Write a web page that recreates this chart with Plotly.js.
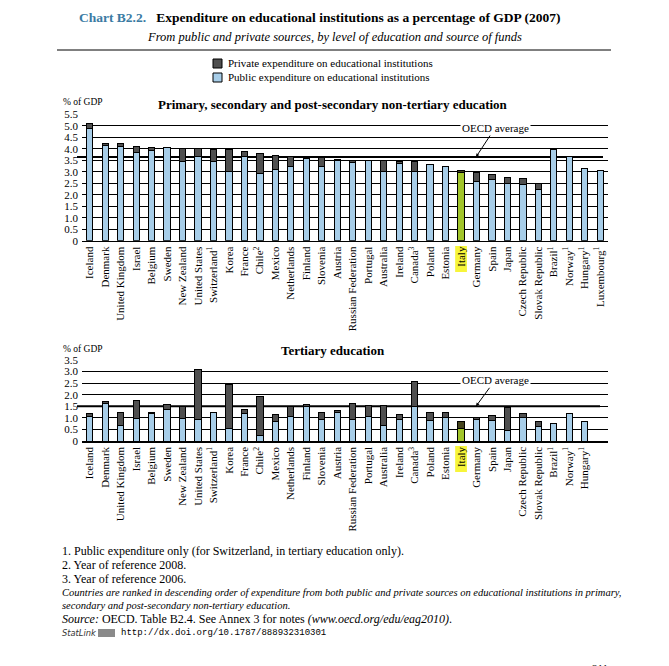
<!DOCTYPE html>
<html>
<head>
<meta charset="utf-8">
<script src="https://cdn.plot.ly/plotly-3.0.1.min.js"></script>
<style>html,body{margin:0;padding:0;background:#fff;}#chart{width:669px;height:666px;}</style>
</head>
<body>
<div id="chart"></div>
<script>
// ---- data ----
const countries = ["Iceland","Denmark","United Kingdom","Israel","Belgium","Sweden","New Zealand","United States","Switzerland","Korea","France","Chile","Mexico","Netherlands","Finland","Slovenia","Austria","Russian Federation","Portugal","Australia","Ireland","Canada","Poland","Estonia","Italy","Germany","Spain","Japan","Czech Republic","Slovak Republic","Brazil","Norway","Hungary","Luxembourg"];
const tickLabels = ["Iceland","Denmark","United Kingdom","Israel","Belgium","Sweden","New Zealand","United States","Switzerland<sup>1</sup>","Korea","France","Chile<sup>2</sup>","Mexico","Netherlands","Finland","Slovenia","Austria","Russian Federation","Portugal","Australia","Ireland","Canada<sup>3</sup>","Poland","Estonia","Italy","Germany","Spain","Japan","Czech Republic","Slovak Republic","Brazil<sup>1</sup>","Norway<sup>1</sup>","Hungary<sup>1</sup>","Luxembourg<sup>1</sup>"];
const primaryPublic  = [4.90,4.15,4.12,3.85,3.93,4.06,3.45,3.66,3.45,3.00,3.66,2.92,3.10,3.24,3.58,3.25,3.50,3.40,3.48,3.00,3.34,3.00,3.32,3.25,2.96,2.57,2.66,2.48,2.45,2.21,3.99,3.67,3.15,3.06];
const primaryPrivate = [0.18,0.09,0.12,0.27,0.13,0,0.57,0.36,0.53,0.98,0.21,0.88,0.62,0.43,0.04,0.36,0.04,0.10,0.02,0.50,0.10,0.44,0,0,0.10,0.39,0.23,0.29,0.26,0.29,0,0,0,0];
const tertiaryCountries = countries.slice(0, 33);
const tertiaryLabels = tickLabels.slice(0, 33);
const tertiaryPublic  = [1.05,1.62,0.68,0.96,1.20,1.38,0.96,0.94,1.25,0.55,1.20,0.23,0.84,1.07,1.51,0.95,1.24,0.94,1.07,0.66,0.95,1.48,0.89,1.02,0.56,0.91,0.89,0.46,1.02,0.62,0.76,1.21,0.86];
const tertiaryPrivate = [0.12,0.08,0.57,0.81,0.05,0.18,0.52,2.13,0,1.87,0.18,1.71,0.31,0.41,0.07,0.30,0.07,0.69,0.47,0.88,0.20,1.10,0.35,0.22,0.30,0.11,0.22,0.98,0.18,0.24,0,0,0];
const oecdPrimary = 3.64;
const oecdTertiary = 1.5;
const primaryTicks = [0,0.5,1,1.5,2,2.5,3,3.5,4,4.5,5,5.5];
const primaryTickText = ["0","0.5","1.0","1.5","2.0","2.5","3.0","3.5","4.0","4.5","5.0","5.5"];
const tertiaryTicks = [0,0.5,1,1.5,2,2.5,3,3.5];
const tertiaryTickText = ["0","0.5","1.0","1.5","2.0","2.5","3.0","3.5"];
const highlight = "Italy";

// ---- styles ----
const W = 669, H = 666;
const px = x => x / W;
const py = y => 1 - y / H;
const SERIF = "Liberation Serif, Times New Roman, serif";
const BLUE = "#a7cde8", GREY = "#4f4f4f", GREEN = "#a2c52a", OLIVE = "#45441c", YELLOW = "#f7f53a";
const pubColors = arr => arr.map(c => c === highlight ? GREEN : BLUE);
const privColors = arr => arr.map(c => c === highlight ? OLIVE : GREY);
const barLine = {color: "#000", width: 1};
const BW = 0.4;

const traces = [
  {type: "bar", x: countries, y: primaryPublic, xaxis: "x", yaxis: "y", width: BW,
   marker: {color: pubColors(countries), line: barLine}, name: "Public expenditure on educational institutions", showlegend: false, hoverinfo: "x+y"},
  {type: "bar", x: countries, y: primaryPrivate, xaxis: "x", yaxis: "y", width: BW,
   marker: {color: privColors(countries), line: barLine}, name: "Private expenditure on educational institutions", showlegend: false, hoverinfo: "x+y"},
  {type: "bar", x: tertiaryCountries, y: tertiaryPublic, xaxis: "x2", yaxis: "y2", width: BW,
   marker: {color: pubColors(tertiaryCountries), line: barLine}, name: "Public", showlegend: false, hoverinfo: "x+y"},
  {type: "bar", x: tertiaryCountries, y: tertiaryPrivate, xaxis: "x2", yaxis: "y2", width: BW,
   marker: {color: privColors(tertiaryCountries), line: barLine}, name: "Private", showlegend: false, hoverinfo: "x+y"}
];

const xCommon = {
  type: "category", range: [-0.5, countries.length - 0.5], showgrid: false, ticks: "",
  tickangle: -90, tickfont: {family: SERIF, size: 11, color: "#000"},
  showline: true, linecolor: "#000", linewidth: 1.5, fixedrange: true, automargin: false
};
const yCommon = {
  showgrid: true, gridcolor: "#000", gridwidth: 1, zeroline: false, ticks: "",
  tickfont: {family: SERIF, size: 11, color: "#000"}, showline: false, fixedrange: true, automargin: false,
  ticklabelstandoff: 3
};
const XD = [px(82), px(608)];

const layout = {
  width: W, height: H, autosize: false,
  margin: {l: 0, r: 0, t: 0, b: 0},
  paper_bgcolor: "#fff", plot_bgcolor: "rgba(0,0,0,0)",
  barmode: "stack", showlegend: false,
  font: {family: SERIF, color: "#000"},
  xaxis: Object.assign({}, xCommon, {domain: XD, anchor: "y", tickvals: countries, ticktext: tickLabels}),
  yaxis: Object.assign({}, yCommon, {domain: [py(240.7), py(114.3)], anchor: "x", range: [0, 5.5], tickvals: primaryTicks, ticktext: primaryTickText}),
  xaxis2: Object.assign({}, xCommon, {domain: XD, anchor: "y2", tickvals: tertiaryCountries, ticktext: tertiaryLabels}),
  yaxis2: Object.assign({}, yCommon, {domain: [py(441), py(360)], anchor: "x2", range: [0, 3.5], tickvals: tertiaryTicks, ticktext: tertiaryTickText}),
  shapes: [
    {type: "line", xref: "paper", yref: "paper", x0: px(57), x1: px(611), y0: py(50), y1: py(50), line: {color: "#000", width: 1}},
    {type: "rect", xref: "paper", yref: "paper", x0: px(213), x1: px(222), y0: py(59), y1: py(68), fillcolor: GREY, line: {color: "#000", width: 1}},
    {type: "rect", xref: "paper", yref: "paper", x0: px(213), x1: px(222), y0: py(73), y1: py(82), fillcolor: BLUE, line: {color: "#000", width: 1}},
    {type: "line", xref: "paper", yref: "y", x0: px(77), x1: px(603), y0: oecdPrimary, y1: oecdPrimary, line: {color: "#000", width: 2}, layer: "below"},
    {type: "line", xref: "paper", yref: "y2", x0: px(77), x1: px(600), y0: oecdTertiary, y1: oecdTertiary, line: {color: "#000", width: 2}, layer: "below"},
    {type: "rect", xref: "x", yref: "paper", x0: countries.indexOf(highlight) - 0.38, x1: countries.indexOf(highlight) + 0.38, y0: py(272), y1: py(246), fillcolor: YELLOW, line: {width: 0}, layer: "below"},
    {type: "rect", xref: "x2", yref: "paper", x0: tertiaryCountries.indexOf(highlight) - 0.38, x1: tertiaryCountries.indexOf(highlight) + 0.38, y0: py(472), y1: py(446), fillcolor: YELLOW, line: {width: 0}, layer: "below"},
    {type: "rect", xref: "paper", yref: "paper", x0: px(98), x1: px(115), y0: py(637), y1: py(629), fillcolor: "#8a8a8a", line: {width: 0}}
  ],
  annotations: [
    {xref: "paper", yref: "paper", x: px(77), y: py(18), xanchor: "left", yanchor: "middle", showarrow: false,
     text: "<b><span style='color:#3b7ba3'>Chart B2.2.</span>\u00a0\u00a0 Expenditure on educational institutions as a percentage of GDP (2007)</b>",
     font: {family: SERIF, size: 13.5, color: "#000"}},
    {xref: "paper", yref: "paper", x: px(334), y: py(37), xanchor: "center", yanchor: "middle", showarrow: false,
     text: "<i>From public and private sources, by level of education and source of funds</i>", font: {family: SERIF, size: 12.5}},
    {xref: "paper", yref: "paper", x: px(226), y: py(63.5), xanchor: "left", yanchor: "middle", showarrow: false,
     text: "Private expenditure on educational institutions", font: {family: SERIF, size: 11}},
    {xref: "paper", yref: "paper", x: px(226), y: py(77.5), xanchor: "left", yanchor: "middle", showarrow: false,
     text: "Public expenditure on educational institutions", font: {family: SERIF, size: 11}},
    {xref: "paper", yref: "paper", x: px(61), y: py(102), xanchor: "left", yanchor: "middle", showarrow: false,
     text: "% of GDP", font: {family: SERIF, size: 9.5}},
    {xref: "paper", yref: "paper", x: px(333), y: py(104.5), xanchor: "center", yanchor: "middle", showarrow: false,
     text: "<b>Primary, secondary and post-secondary non-tertiary education</b>", font: {family: SERIF, size: 13}},
    {xref: "paper", yref: "y", x: px(476), y: oecdPrimary, text: "OECD average", showarrow: true, ax: 19, ay: -29,
     arrowhead: 2, arrowsize: 0.7, arrowwidth: 1, arrowcolor: "#000", bgcolor: "#fff", borderpad: 1, font: {family: SERIF, size: 11}},
    {xref: "paper", yref: "paper", x: px(61), y: py(349), xanchor: "left", yanchor: "middle", showarrow: false,
     text: "% of GDP", font: {family: SERIF, size: 9.5}},
    {xref: "paper", yref: "paper", x: px(333), y: py(351), xanchor: "center", yanchor: "middle", showarrow: false,
     text: "<b>Tertiary education</b>", font: {family: SERIF, size: 13}},
    {xref: "paper", yref: "y2", x: px(476), y: oecdTertiary, text: "OECD average", showarrow: true, ax: 19, ay: -26,
     arrowhead: 2, arrowsize: 0.7, arrowwidth: 1, arrowcolor: "#000", bgcolor: "#fff", borderpad: 1, font: {family: SERIF, size: 11}},
    {xref: "paper", yref: "paper", x: px(60), y: py(551), xanchor: "left", yanchor: "middle", showarrow: false,
     text: "1. Public expenditure only (for Switzerland, in tertiary education only).", font: {family: SERIF, size: 12}},
    {xref: "paper", yref: "paper", x: px(60), y: py(565), xanchor: "left", yanchor: "middle", showarrow: false,
     text: "2. Year of reference 2008.", font: {family: SERIF, size: 12}},
    {xref: "paper", yref: "paper", x: px(60), y: py(578.5), xanchor: "left", yanchor: "middle", showarrow: false,
     text: "3. Year of reference 2006.", font: {family: SERIF, size: 12}},
    {xref: "paper", yref: "paper", x: px(60), y: py(592), xanchor: "left", yanchor: "middle", showarrow: false,
     text: "<i>Countries are ranked in descending order of expenditure from both public and private sources on educational institutions in primary,</i>", font: {family: SERIF, size: 10.5}},
    {xref: "paper", yref: "paper", x: px(60), y: py(605), xanchor: "left", yanchor: "middle", showarrow: false,
     text: "<i>secondary and post-secondary non-tertiary education.</i>", font: {family: SERIF, size: 10.5}},
    {xref: "paper", yref: "paper", x: px(60), y: py(619), xanchor: "left", yanchor: "middle", showarrow: false,
     text: "<i>Source:</i> OECD. Table B2.4. See Annex 3 for notes <i>(www.oecd.org/edu/eag2010)</i>.", font: {family: SERIF, size: 12}},
    {xref: "paper", yref: "paper", x: px(60), y: py(633), xanchor: "left", yanchor: "middle", showarrow: false,
     text: "<i>StatLink</i>", font: {family: "DejaVu Sans, sans-serif", size: 8.3, color: "#333"}},
    {xref: "paper", yref: "paper", x: px(119), y: py(633), xanchor: "left", yanchor: "middle", showarrow: false,
     text: "http://dx.doi.org/10.1787/888932310301", font: {family: "Liberation Mono, DejaVu Sans Mono, monospace", size: 9}},
    {xref: "paper", yref: "paper", x: px(590), y: py(660), xanchor: "left", yanchor: "top", showarrow: false,
     text: "211", font: {family: SERIF, size: 11}}
  ]
};

Plotly.newPlot("chart", traces, layout, {staticPlot: true, displayModeBar: false});
</script>
</body>
</html>
